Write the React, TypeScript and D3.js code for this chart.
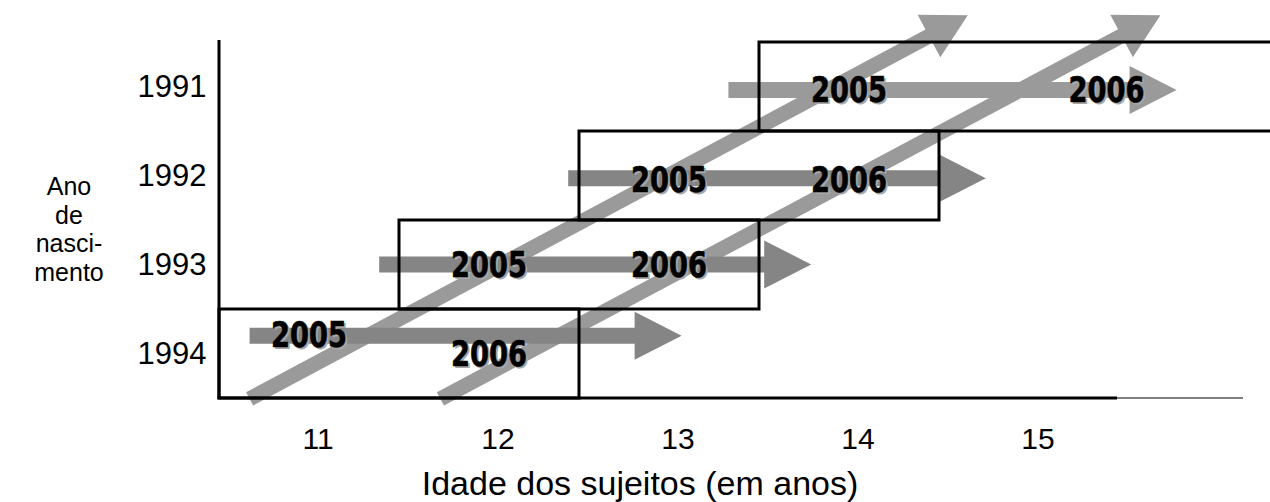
import React from "react";
import * as d3 from "d3";

// ---- data ----
const birthYears = [1991, 1992, 1993, 1994];
const ageTicks = [11, 12, 13, 14, 15];
const periodLabels = ["2005", "2006"];
// horizontal (cohort) arrows, in age units and birth-year units
const cohortArrowStart = [13.33, 12.44, 11.39, 10.67];
const cohortArrowEnd = [15.82, 14.76, 13.79, 13.07];
const cohortArrowY = [1991.04, 1992.03, 1993.0, 1993.8];
const cohortArrowColor = ["#9a9a9a", "#858585", "#858585", "#858585"];
// box extents in age units
const boxStart = [13.5, 12.5, 11.5, 10.5];
const boxEnd = [17.0, 14.5, 13.5, 12.5];
// label positions (age, birth-year units)
const label2005Age = [14, 13, 12, 11];
const label2005Y = [1991.04, 1992.05, 1993.01, 1993.79];
const label2006Age = [15.43, 14, 13, 12];
const label2006Y = [1991.04, 1992.05, 1993.01, 1994.0];
// diagonal (period) arrows
const diagTailAge = [10.67, 11.73];
const diagTipAge = [14.66, 15.73];
const diagTailY = [1994.51, 1994.51];
const diagTipY = [1990.2, 1990.2];

const W = 1270;
const H = 502;

const x = d3.scaleLinear().domain([11, 15]).range([309, 1029]);
const y = d3.scaleLinear().domain([1990.5, 1994.5]).range([42, 398]);

function arrowPath(x0: number, y0: number, x1: number, y1: number, shaft: number, headLen: number, headHalf: number) {
  const dx = x1 - x0;
  const dy = y1 - y0;
  const len = Math.hypot(dx, dy);
  const ux = dx / len;
  const uy = dy / len;
  const nx = -uy;
  const ny = ux;
  const bx = x1 - ux * headLen;
  const by = y1 - uy * headLen;
  const s = shaft / 2;
  const p = d3.path();
  p.moveTo(x0 + nx * s, y0 + ny * s);
  p.lineTo(bx + nx * s, by + ny * s);
  p.lineTo(bx + nx * headHalf, by + ny * headHalf);
  p.lineTo(x1, y1);
  p.lineTo(bx - nx * headHalf, by - ny * headHalf);
  p.lineTo(bx - nx * s, by - ny * s);
  p.lineTo(x0 - nx * s, y0 - ny * s);
  p.closePath();
  return p.toString();
}

const labelFont = "'Liberation Sans Narrow', 'DejaVu Sans Condensed', sans-serif";
const plainFont = "'Liberation Sans', Arial, sans-serif";

function YearLabel({ cx, cy, text }: { cx: number; cy: number; text: string }) {
  const common = {
    textAnchor: "middle" as const,
    dominantBaseline: "central" as const,
    fontFamily: labelFont,
    fontWeight: 700,
    fontSize: 35,
    textLength: 76,
    lengthAdjust: "spacingAndGlyphs" as const,
  };
  return (
    <g>
      <text x={cx + 2} y={cy + 2} fill="#a8a8a8" {...common}>{text}</text>
      <text x={cx} y={cy} fill="#000" stroke="#000" strokeWidth={0.6} {...common}>{text}</text>
    </g>
  );
}

export default function App() {
  const rowH = y(1991.5) - y(1990.5);
  return (
    <svg width={W} height={H} style={{ position: "absolute", left: 0, top: 0, background: "#fff" }}>
      {/* diagonal arrows */}
      {diagTailAge.map((a, i) => (
        <path
          key={"d" + i}
          d={arrowPath(x(a), y(diagTailY[i]), x(diagTipAge[i]), y(diagTipY[i]), 15, 44, 24)}
          fill="#9a9a9a"
        />
      ))}
      {/* horizontal cohort arrows */}
      {birthYears.map((b, i) => (
        <path
          key={"h" + b}
          d={arrowPath(x(cohortArrowStart[i]), y(cohortArrowY[i]), x(cohortArrowEnd[i]), y(cohortArrowY[i]), 16, 47, 24)}
          fill={cohortArrowColor[i]}
        />
      ))}
      {/* boxes */}
      {birthYears.map((b, i) => (
        <rect
          key={"b" + b}
          x={x(boxStart[i])}
          y={y(b - 0.5)}
          width={x(boxEnd[i]) - x(boxStart[i])}
          height={rowH}
          fill="none"
          stroke="#000"
          strokeWidth={3}
        />
      ))}
      {/* axes */}
      <line x1={x(10.5)} x2={x(10.5)} y1={40} y2={y(1994.5)} stroke="#000" strokeWidth={3} />
      <line x1={x(10.5) - 1.5} x2={1117} y1={y(1994.5)} y2={y(1994.5)} stroke="#000" strokeWidth={3} />
      <line x1={1117} x2={1243} y1={y(1994.5)} y2={y(1994.5)} stroke="#000" strokeWidth={1.2} />
      {/* period labels */}
      {birthYears.map((b, i) => (
        <g key={"l" + b}>
          <YearLabel cx={x(label2005Age[i])} cy={y(label2005Y[i])} text={periodLabels[0]} />
          <YearLabel cx={x(label2006Age[i])} cy={y(label2006Y[i])} text={periodLabels[1]} />
        </g>
      ))}
      {/* y labels */}
      {birthYears.map((b) => (
        <text
          key={"y" + b}
          x={172}
          y={y(b)}
          textAnchor="middle"
          dominantBaseline="central"
          fontFamily={plainFont}
          fontSize={31}
        >
          {b}
        </text>
      ))}
      {/* x ticks */}
      {ageTicks.map((a) => (
        <text
          key={"x" + a}
          x={x(a) + 9}
          y={438}
          textAnchor="middle"
          dominantBaseline="central"
          fontFamily={plainFont}
          fontSize={30}
        >
          {a}
        </text>
      ))}
      <text x={640} y={495} textAnchor="middle" fontFamily={plainFont} fontSize={34}>
        Idade dos sujeitos (em anos)
      </text>
      <text textAnchor="middle" fontFamily={plainFont} fontSize={25}>
        {["Ano", "de", "nasci-", "mento"].map((s, i) => (
          <tspan key={s} x={69} y={195 + i * 28.7}>{s}</tspan>
        ))}
      </text>
    </svg>
  );
}
